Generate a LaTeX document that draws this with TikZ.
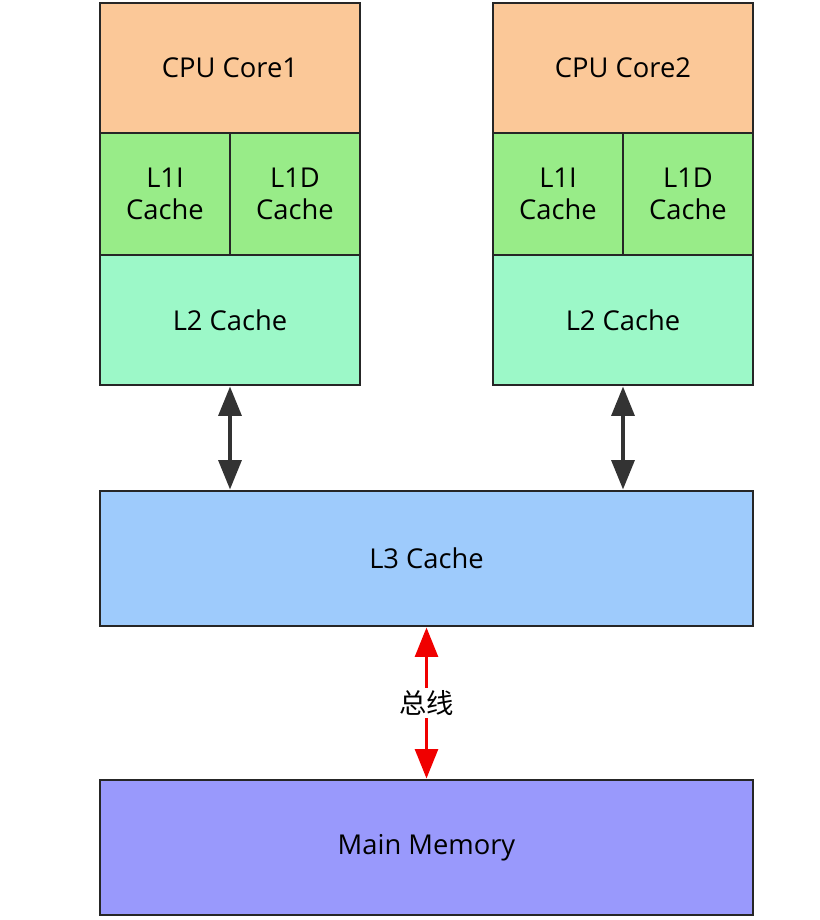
\documentclass[tikz,border=0pt]{standalone}
\usepackage{fontspec}
\setmainfont{Open Sans}
\newfontfamily\cjk{Noto Sans CJK SC}
\usetikzlibrary{arrows.meta}
\definecolor{coreorange}{HTML}{FBC898}
\definecolor{lonegreen}{HTML}{98EC88}
\definecolor{ltwogreen}{HTML}{9CF8C8}
\definecolor{lthreeblue}{HTML}{9ECBFC}
\definecolor{memblue}{HTML}{9999FC}
\definecolor{busred}{HTML}{F00000}

\begin{document}
\begin{tikzpicture}[x=0.75pt, y=-0.75pt,
    line width=2.2pt,
    box/.style={draw=black!85, rectangle, inner sep=0pt, align=center,
      font=\fontsize{20.5}{24}\selectfont},
    wide/.style={box, minimum width=195pt, minimum height=97.5pt},
    half/.style={box, minimum width=97.5pt, minimum height=91.5pt},
    long/.style={box, minimum width=489.75pt, minimum height=101.25pt},
    link/.style={draw=black!80, line width=3pt,
      {Triangle[length=22pt,width=17pt]}-{Triangle[length=22pt,width=17pt]}},
    bus/.style={draw=busred, line width=2.5pt,
      {Triangle[length=22pt,width=17pt]}-{Triangle[length=22pt,width=17pt]}}]
  \useasboundingbox (0,0) rectangle (820,920);

  % core 1
  \node[wide, fill=coreorange] (C1)   at (230,68)  {CPU Core1};
  \node[half, fill=lonegreen]  (IA)   at (165,194) {L1I\\Cache};
  \node[half, fill=lonegreen]  (DA)   at (295,194) {L1D\\Cache};
  \node[wide, fill=ltwogreen]  (L2a)  at (230,320) {L2 Cache};

  % core 2
  \node[wide, fill=coreorange] (C2)   at (623,68)  {CPU Core2};
  \node[half, fill=lonegreen]  (IB)   at (558,194) {L1I\\Cache};
  \node[half, fill=lonegreen]  (DB)   at (688,194) {L1D\\Cache};
  \node[wide, fill=ltwogreen]  (L2b)  at (623,320) {L2 Cache};

  \node[long, fill=lthreeblue] (L3)   at (426.5,558.5) {L3 Cache};
  \node[long, fill=memblue]    (Mem)  at (426.5,847.5) {Main Memory};

  \draw[link] (L2a.south) -- (L2a.south |- L3.north);
  \draw[link] (L2b.south) -- (L2b.south |- L3.north);
  \draw[bus] (L3.south) -- node[fill=white, inner sep=2pt,
    font=\cjk\fontsize{20.5}{24}\selectfont] (Bus) {总线} (Mem.north);
\end{tikzpicture}
\end{document}
